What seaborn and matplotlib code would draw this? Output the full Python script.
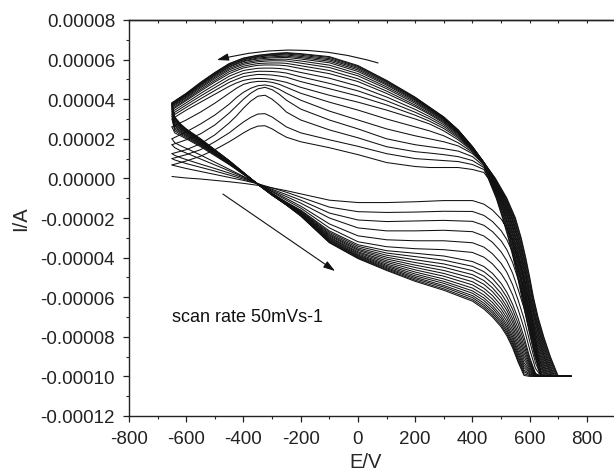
import numpy as np
import pandas as pd
import matplotlib
matplotlib.use("Agg")
import matplotlib.pyplot as plt
import seaborn as sns
from matplotlib.ticker import MultipleLocator

# ---------------- data (potential in mV, current in 1e-5 A) ----------------
FWD_E = [-650, -640, -620, -600, -550, -500, -450, -400, -350, -300, -250, -200, -100, 0,
         100, 200, 300, 400, 440, 470, 500, 520, 540, 560, 580, 600, 620, 640, 745]
RISE_I = [-10, -9, -8, -7, -6, -5, -4, -3, -2, -1, 0]
RET_E = [440, 400, 350, 300, 250, 200, 100, 0, -100, -200, -250, -275, -300, -325, -350,
         -375, -400, -425, -450, -500, -550, -600, -650]

c01_fwd = [0.1, 0.08, 0.05, 0.02, -0.03, -0.1, -0.17, -0.25, -0.35, -0.48, -0.62, -0.78, -1.1, -1.22, -1.22, -1.18, -1.12, -1.12, -1.3, -1.6, -2.05, -2.5, -3.15, -4.1, -5.05, -6.4, -8.1, -10, -10]
c02_fwd = [0.68, 0.64, 0.57, 0.5, 0.35, 0.2, 0.05, -0.1, -0.27, -0.48, -0.7, -0.95, -1.45, -1.68, -1.72, -1.7, -1.66, -1.67, -1.87, -2.18, -2.64, -3.09, -3.73, -4.64, -5.58, -6.88, -8.42, -10, -10]
c03_fwd = [1.0, 0.93, 0.84, 0.75, 0.56, 0.37, 0.17, -0.04, -0.27, -0.55, -0.82, -1.1, -1.75, -2.1, -2.18, -2.15, -2.12, -2.17, -2.37, -2.69, -3.15, -3.6, -4.24, -5.12, -6.05, -7.3, -8.7, -10, -10]
c04_fwd = [1.25, 1.16, 1.05, 0.95, 0.72, 0.5, 0.27, 0.02, -0.27, -0.6, -0.92, -1.25, -2.0, -2.5, -2.65, -2.65, -2.62, -2.69, -2.91, -3.23, -3.71, -4.16, -4.78, -5.63, -6.55, -7.75, -8.99, -10, -10]
c05_fwd = [1.7, 1.55, 1.4, 1.28, 0.98, 0.68, 0.38, 0.07, -0.27, -0.65, -1.02, -1.4, -2.3, -2.9, -3.1, -3.15, -3.15, -3.25, -3.47, -3.81, -4.29, -4.74, -5.36, -6.17, -7.09, -8.23, -9.31, -10, -10]
c06_fwd = [2.0, 1.8, 1.65, 1.52, 1.18, 0.82, 0.46, 0.1, -0.27, -0.68, -1.1, -1.5, -2.5, -3.2, -3.45, -3.55, -3.6, -3.74, -3.98, -4.32, -4.81, -5.26, -5.87, -6.65, -7.56, -8.65, -9.59, -10, -10]
c07_fwd = [2.6, 2.3, 2.15, 2.0, 1.6, 1.15, 0.7, 0.2, -0.28, -0.75, -1.2, -1.6, -2.65, -3.35, -3.65, -3.78, -3.92, -4.2, -4.45, -4.8, -5.3, -5.75, -6.35, -7.1, -8.0, -9.05, -9.85, -10, -10]
c08_fwd = [3.0, 2.4, 2.22, 2.06, 1.65, 1.19, 0.72, 0.21, -0.28, -0.76, -1.22, -1.64, -2.72, -3.43, -3.77, -3.95, -4.13, -4.44, -4.71, -5.06, -5.56, -6.01, -6.61, -7.36, -8.23, -9.16, -9.87, -10, -10]
c09_fwd = [3.14, 2.48, 2.29, 2.12, 1.69, 1.22, 0.75, 0.22, -0.28, -0.77, -1.23, -1.67, -2.79, -3.51, -3.88, -4.11, -4.32, -4.66, -4.94, -5.31, -5.81, -6.26, -6.86, -7.61, -8.45, -9.27, -9.88, -10, -10]
c10_fwd = [3.25, 2.56, 2.35, 2.17, 1.73, 1.25, 0.77, 0.23, -0.29, -0.78, -1.25, -1.7, -2.85, -3.58, -3.98, -4.25, -4.49, -4.86, -5.16, -5.53, -6.03, -6.48, -7.08, -7.83, -8.64, -9.36, -9.9, -10, -10]
c11_fwd = [3.36, 2.64, 2.4, 2.21, 1.77, 1.28, 0.78, 0.24, -0.29, -0.79, -1.26, -1.73, -2.9, -3.64, -4.07, -4.38, -4.65, -5.04, -5.35, -5.72, -6.22, -6.67, -7.27, -8.02, -8.82, -9.45, -9.91, -10, -10]
c12_fwd = [3.46, 2.71, 2.46, 2.26, 1.8, 1.3, 0.8, 0.25, -0.29, -0.8, -1.28, -1.75, -2.96, -3.71, -4.16, -4.5, -4.8, -5.22, -5.55, -5.92, -6.42, -6.87, -7.47, -8.22, -8.99, -9.53, -9.93, -10, -10]
c13_fwd = [3.52, 2.77, 2.5, 2.3, 1.84, 1.33, 0.82, 0.26, -0.29, -0.81, -1.29, -1.78, -3.0, -3.76, -4.24, -4.62, -4.94, -5.38, -5.72, -6.1, -6.6, -7.05, -7.65, -8.4, -9.15, -9.61, -9.94, -10, -10]
c14_fwd = [3.59, 2.84, 2.55, 2.34, 1.87, 1.35, 0.83, 0.27, -0.29, -0.82, -1.3, -1.8, -3.05, -3.82, -4.32, -4.73, -5.08, -5.54, -5.89, -6.27, -6.77, -7.22, -7.82, -8.57, -9.31, -9.69, -9.95, -10, -10]
c15_fwd = [3.64, 2.89, 2.59, 2.37, 1.9, 1.37, 0.85, 0.27, -0.29, -0.82, -1.31, -1.82, -3.09, -3.87, -4.39, -4.83, -5.2, -5.68, -6.04, -6.43, -6.93, -7.38, -7.98, -8.73, -9.44, -9.75, -9.96, -10, -10]
c16_fwd = [3.69, 2.94, 2.63, 2.4, 1.92, 1.39, 0.86, 0.28, -0.3, -0.83, -1.32, -1.84, -3.13, -3.91, -4.45, -4.92, -5.3, -5.8, -6.17, -6.56, -7.06, -7.51, -8.11, -8.86, -9.56, -9.81, -9.97, -10, -10]
c17_fwd = [3.72, 2.99, 2.67, 2.43, 1.94, 1.41, 0.87, 0.29, -0.3, -0.84, -1.33, -1.86, -3.17, -3.95, -4.51, -5.0, -5.41, -5.92, -6.3, -6.69, -7.19, -7.64, -8.24, -8.99, -9.68, -9.87, -9.98, -10, -10]
c18_fwd = [3.75, 3.03, 2.7, 2.46, 1.96, 1.42, 0.88, 0.29, -0.3, -0.84, -1.34, -1.87, -3.2, -3.99, -4.56, -5.07, -5.49, -6.02, -6.41, -6.8, -7.3, -7.75, -8.35, -9.1, -9.77, -9.91, -9.99, -10, -10]
c19_fwd = [3.78, 3.07, 2.73, 2.48, 1.98, 1.44, 0.89, 0.3, -0.3, -0.85, -1.34, -1.89, -3.23, -4.02, -4.61, -5.14, -5.58, -6.12, -6.51, -6.91, -7.41, -7.86, -8.46, -9.21, -9.87, -9.96, -9.99, -10, -10]
c20_fwd = [3.8, 3.1, 2.75, 2.5, 2.0, 1.45, 0.9, 0.3, -0.3, -0.85, -1.35, -1.9, -3.25, -4.05, -4.65, -5.2, -5.65, -6.2, -6.6, -7.0, -7.5, -7.95, -8.55, -9.3, -9.95, -10, -10, -10, -10]

# potential (mV) at which each reverse scan passes the RISE_I current levels
c01_rise = [640, 618, 602, 587, 572, 558, 542, 525, 505, 483, 455]
c02_rise = [643, 621, 604, 589, 574, 560, 544, 527, 507, 485, 456]
c03_rise = [646, 624, 607, 591, 576, 562, 547, 530, 510, 487, 458]
c04_rise = [650, 627, 609, 594, 579, 565, 549, 532, 512, 489, 459]
c05_rise = [653, 630, 612, 596, 581, 567, 551, 535, 515, 491, 460]
c06_rise = [656, 632, 614, 598, 583, 569, 554, 537, 517, 493, 462]
c07_rise = [659, 635, 617, 600, 585, 571, 556, 539, 519, 495, 463]
c08_rise = [662, 638, 619, 603, 587, 574, 558, 542, 522, 497, 464]
c09_rise = [665, 641, 622, 605, 589, 576, 561, 544, 524, 499, 466]
c10_rise = [668, 644, 624, 607, 591, 578, 563, 546, 526, 500, 467]
c11_rise = [672, 647, 627, 609, 594, 580, 565, 549, 529, 502, 468]
c12_rise = [675, 650, 629, 611, 596, 582, 568, 551, 531, 504, 470]
c13_rise = [678, 652, 632, 614, 598, 585, 570, 553, 533, 506, 471]
c14_rise = [681, 655, 634, 616, 600, 587, 572, 556, 536, 508, 472]
c15_rise = [684, 658, 637, 618, 602, 589, 574, 558, 538, 510, 473]
c16_rise = [687, 661, 639, 620, 604, 591, 577, 560, 540, 512, 475]
c17_rise = [691, 664, 642, 622, 607, 593, 579, 563, 543, 514, 476]
c18_rise = [694, 667, 644, 625, 609, 596, 581, 565, 545, 516, 477]
c19_rise = [697, 670, 647, 627, 611, 598, 584, 568, 548, 518, 479]
c20_rise = [700, 672, 649, 629, 613, 600, 586, 570, 550, 520, 480]

c01_ret = [0.3, 0.45, 0.55, 0.55, 0.55, 0.6, 0.8, 1.2, 1.55, 1.85, 2.08, 2.28, 2.5, 2.66, 2.64, 2.5, 2.3, 2.07, 1.85, 1.45, 1.12, 0.88, 0.68]
c02_ret = [0.45, 0.7, 0.85, 0.9, 0.95, 1.0, 1.25, 1.62, 1.95, 2.3, 2.6, 2.85, 3.1, 3.27, 3.25, 3.08, 2.85, 2.58, 2.3, 1.85, 1.45, 1.2, 1.0]
c03_ret = [0.55, 0.9, 1.1, 1.2, 1.28, 1.35, 1.6, 2.05, 2.45, 2.95, 3.35, 3.7, 4.0, 4.2, 4.15, 3.9, 3.55, 3.15, 2.8, 2.2, 1.75, 1.45, 1.25]
c04_ret = [0.62, 1.1, 1.38, 1.5, 1.6, 1.7, 2.0, 2.5, 2.95, 3.5, 3.95, 4.25, 4.48, 4.6, 4.52, 4.3, 4.0, 3.65, 3.3, 2.7, 2.25, 1.95, 1.7]
c05_ret = [0.7, 1.25, 1.64, 1.85, 2.0, 2.15, 2.5, 2.95, 3.4, 3.95, 4.3, 4.5, 4.65, 4.72, 4.68, 4.55, 4.35, 4.08, 3.75, 3.2, 2.75, 2.35, 2.0]
c06_ret = [0.72, 1.32, 1.8, 2.15, 2.4, 2.6, 3.0, 3.45, 3.85, 4.3, 4.6, 4.75, 4.85, 4.9, 4.9, 4.85, 4.75, 4.55, 4.3, 3.8, 3.35, 2.95, 2.6]
c07_ret = [0.75, 1.38, 1.95, 2.4, 2.75, 3.0, 3.45, 3.85, 4.2, 4.6, 4.85, 4.93, 5.0, 5.04, 5.05, 5.02, 4.95, 4.82, 4.65, 4.25, 3.85, 3.45, 3.0]
c08_ret = [0.76, 1.42, 2.04, 2.52, 2.89, 3.19, 3.71, 4.16, 4.53, 4.89, 5.11, 5.17, 5.22, 5.24, 5.25, 5.2, 5.14, 5.0, 4.85, 4.44, 4.02, 3.59, 3.14]
c09_ret = [0.77, 1.45, 2.11, 2.62, 3.01, 3.34, 3.92, 4.42, 4.8, 5.13, 5.32, 5.37, 5.4, 5.41, 5.41, 5.36, 5.3, 5.16, 5.01, 4.59, 4.16, 3.71, 3.25]
c10_ret = [0.77, 1.48, 2.17, 2.71, 3.12, 3.48, 4.11, 4.66, 5.06, 5.35, 5.51, 5.55, 5.57, 5.57, 5.56, 5.51, 5.45, 5.31, 5.16, 4.73, 4.29, 3.82, 3.36]
c11_ret = [0.78, 1.5, 2.23, 2.79, 3.23, 3.62, 4.29, 4.89, 5.29, 5.55, 5.69, 5.72, 5.73, 5.73, 5.71, 5.65, 5.58, 5.44, 5.29, 4.87, 4.41, 3.93, 3.46]
c12_ret = [0.78, 1.52, 2.27, 2.85, 3.29, 3.7, 4.41, 5.03, 5.45, 5.69, 5.81, 5.83, 5.83, 5.82, 5.8, 5.74, 5.67, 5.53, 5.39, 4.95, 4.49, 3.99, 3.52]
c13_ret = [0.79, 1.54, 2.31, 2.9, 3.36, 3.79, 4.53, 5.18, 5.6, 5.82, 5.93, 5.94, 5.94, 5.92, 5.89, 5.83, 5.76, 5.62, 5.48, 5.04, 4.57, 4.06, 3.59]
c14_ret = [0.79, 1.55, 2.34, 2.95, 3.41, 3.86, 4.62, 5.29, 5.72, 5.93, 6.02, 6.02, 6.01, 5.99, 5.96, 5.9, 5.83, 5.69, 5.55, 5.11, 4.63, 4.11, 3.64]
c15_ret = [0.79, 1.56, 2.37, 2.99, 3.46, 3.92, 4.71, 5.4, 5.84, 6.03, 6.11, 6.1, 6.09, 6.06, 6.03, 5.97, 5.9, 5.76, 5.62, 5.17, 4.69, 4.16, 3.69]
c16_ret = [0.79, 1.57, 2.39, 3.02, 3.5, 3.97, 4.77, 5.48, 5.92, 6.1, 6.17, 6.16, 6.14, 6.11, 6.08, 6.01, 5.94, 5.8, 5.66, 5.22, 4.73, 4.2, 3.72]
c17_ret = [0.8, 1.58, 2.41, 3.04, 3.53, 4.01, 4.83, 5.55, 5.99, 6.16, 6.23, 6.22, 6.2, 6.17, 6.13, 6.06, 5.99, 5.85, 5.71, 5.26, 4.77, 4.23, 3.75]
c18_ret = [0.8, 1.59, 2.43, 3.07, 3.56, 4.05, 4.88, 5.61, 6.05, 6.22, 6.28, 6.26, 6.24, 6.2, 6.16, 6.09, 6.02, 5.88, 5.74, 5.3, 4.8, 4.26, 3.78]
c19_ret = [0.8, 1.6, 2.44, 3.09, 3.58, 4.08, 4.92, 5.66, 6.11, 6.27, 6.32, 6.3, 6.27, 6.24, 6.2, 6.13, 6.06, 5.92, 5.78, 5.33, 4.83, 4.28, 3.8]
c20_ret = [0.8, 1.6, 2.45, 3.1, 3.6, 4.1, 4.95, 5.7, 6.15, 6.3, 6.35, 6.33, 6.3, 6.26, 6.22, 6.15, 6.08, 5.94, 5.8, 5.35, 4.85, 4.3, 3.82]

x_ticks = [-800, -600, -400, -200, 0, 200, 400, 600, 800]
x_labels = ["-800", "-600", "-400", "-200", "0", "200", "400", "600", "800"]
y_ticks = [-0.00012, -0.00010, -0.00008, -0.00006, -0.00004, -0.00002, 0.0, 0.00002, 0.00004, 0.00006, 0.00008]
y_labels = ["-0.00012", "-0.00010", "-0.00008", "-0.00006", "-0.00004", "-0.00002", "0.00000",
            "0.00002", "0.00004", "0.00006", "0.00008"]
note_text = "scan rate 50mVs-1"
x_title = "E/V"
y_title = "I/A"

cycles = [
    (c01_fwd, c01_rise, c01_ret), (c02_fwd, c02_rise, c02_ret), (c03_fwd, c03_rise, c03_ret),
    (c04_fwd, c04_rise, c04_ret), (c05_fwd, c05_rise, c05_ret), (c06_fwd, c06_rise, c06_ret),
    (c07_fwd, c07_rise, c07_ret), (c08_fwd, c08_rise, c08_ret), (c09_fwd, c09_rise, c09_ret),
    (c10_fwd, c10_rise, c10_ret), (c11_fwd, c11_rise, c11_ret), (c12_fwd, c12_rise, c12_ret),
    (c13_fwd, c13_rise, c13_ret), (c14_fwd, c14_rise, c14_ret), (c15_fwd, c15_rise, c15_ret),
    (c16_fwd, c16_rise, c16_ret), (c17_fwd, c17_rise, c17_ret), (c18_fwd, c18_rise, c18_ret),
    (c19_fwd, c19_rise, c19_ret), (c20_fwd, c20_rise, c20_ret),
]

rows = []
for k, (fwd, rise, ret) in enumerate(cycles, start=1):
    pts = list(zip(FWD_E, fwd)) + list(zip(rise, RISE_I)) + list(zip(RET_E, ret))
    for order, (e, i) in enumerate(pts):
        rows.append({"cycle": k, "order": order, "E": e, "I": i * 1e-5})
df = pd.DataFrame(rows)

# ---------------- plot ----------------
sns.set_theme(style="ticks")
plt.rcParams["font.family"] = ["Liberation Sans", "DejaVu Sans"]

fig = plt.figure(figsize=(6.14, 4.77), dpi=100)
ax = fig.add_axes([129 / 614, 60 / 477, 486.6 / 614, 396 / 477])

sns.lineplot(data=df, x="E", y="I", units="cycle", estimator=None, sort=False,
             color="#111111", linewidth=0.75, ax=ax, legend=False)

ax.set_xlim(-800, 900)
ax.set_ylim(-0.00012, 0.00008)

ax.set_xticks(x_ticks)
ax.set_xticklabels(x_labels)
ax.set_yticks(y_ticks)
ax.set_yticklabels(y_labels)
ax.xaxis.set_minor_locator(MultipleLocator(100))
ax.yaxis.set_minor_locator(MultipleLocator(0.00001))

ax.tick_params(axis="both", which="major", direction="out", length=4.5, width=0.9,
               labelsize=13.5, colors="#222222", pad=5.5)
ax.tick_params(axis="both", which="minor", direction="out", length=2.3, width=0.8)
ax.tick_params(top=False, right=False, which="both")

for side in ["left", "bottom", "top"]:
    ax.spines[side].set_linewidth(1.0)
    ax.spines[side].set_color("#222222")
ax.spines["right"].set_visible(False)
ax.spines["top"].set_visible(True)

secax = ax.secondary_xaxis("top")
secax.set_xticks(list(range(-800, 901, 100)))
secax.tick_params(direction="in", length=2.3, width=0.8, labeltop=False)
secax.spines["top"].set_linewidth(1.0)

ax.set_xlabel(x_title, fontsize=14.5)
ax.set_ylabel(y_title, fontsize=14.5)
ax.xaxis.set_label_coords(0.487, -0.092)
ax.yaxis.set_label_coords(-0.203, 0.5)

ax.text(-650, -0.00007, note_text, fontsize=13, va="center", ha="left", color="#111111")

arrow_style = "-|>,head_length=0.7,head_width=0.22"
ax.annotate("", xy=(-493, 0.0000598), xytext=(70, 0.0000583),
            arrowprops=dict(arrowstyle=arrow_style, connectionstyle="arc3,rad=0.14",
                            color="#111111", lw=0.8, mutation_scale=10, shrinkA=0, shrinkB=0))
ax.annotate("", xy=(-80, -0.0000468), xytext=(-472, -0.0000079),
            arrowprops=dict(arrowstyle=arrow_style, color="#111111", lw=0.8,
                            mutation_scale=10, shrinkA=0, shrinkB=0))

fig.savefig("out.png", dpi=100)
